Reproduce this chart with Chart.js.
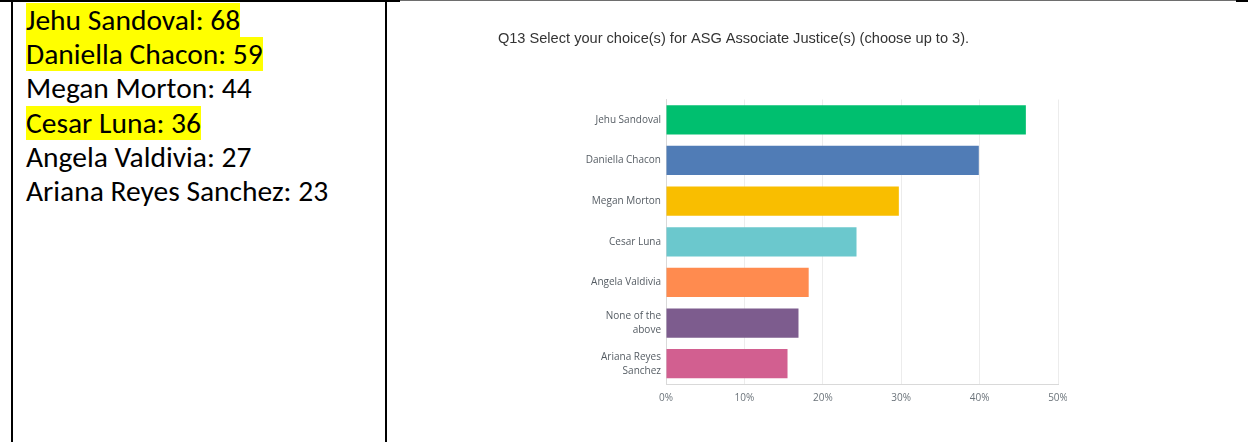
<!DOCTYPE html>
<html>
<head>
<meta charset="utf-8">
<script src="https://cdn.jsdelivr.net/npm/chart.js@4.4.1/dist/chart.umd.min.js"></script>
<style>
  html, body { margin: 0; padding: 0; background: #fff; }
  body { width: 1248px; height: 442px; position: relative; overflow: hidden; }
  .line { position: absolute; background: #000; }
  #textcell { position: absolute; left: 26px; top: 3px; font-family: Carlito, Calibri, Lato, sans-serif; font-size: 29.5px; color: #000; }
  #textcell div { height: 34.2px; line-height: 34.2px; white-space: nowrap; overflow: visible; }
  #textcell span { display: inline-block; height: 34.2px; line-height: 34.2px; vertical-align: top; }
  #textcell span.hl { background: #ffff00; }
  #chartbox { position: absolute; left: 400px; top: 2px; width: 667px; height: 440px; }
</style>
</head>
<body>
<div class="line" style="left:0;top:0;width:400px;height:2px;"></div>
<div class="line" style="left:400px;top:0;width:836px;height:1px;background:#6e6e6e;"></div>
<div class="line" style="left:1236px;top:0;width:12px;height:2px;"></div>
<div class="line" style="left:11px;top:0;width:2px;height:442px;"></div>
<div class="line" style="left:385px;top:0;width:2px;height:442px;"></div>

<div id="textcell"></div>

<div id="chartbox"><canvas id="c"></canvas></div>

<script>
// Left cell: vote counts (text)
const voteNames = ["Jehu Sandoval", "Daniella Chacon", "Megan Morton", "Cesar Luna", "Angela Valdivia", "Ariana Reyes Sanchez"];
const voteCounts = [68, 59, 44, 36, 27, 23];
const voteHighlighted = [true, true, false, true, false, false];

// Chart data
const chartTitle = "Q13 Select your choice(s) for ASG Associate Justice(s) (choose up to 3).";
const categories = [
  "Jehu Sandoval",
  "Daniella Chacon",
  "Megan Morton",
  "Cesar Luna",
  "Angela Valdivia",
  ["None of the", "above"],
  ["Ariana Reyes", "Sanchez"]
];
const percentValues = [45.9, 39.9, 29.7, 24.3, 18.2, 16.9, 15.5];
const barColors = ["#00bf6f", "#507cb6", "#f9be00", "#6bc8cd", "#ff8b4f", "#7d5c8e", "#d25f90"];
const xTickMax = 50;
const xTickStep = 10;

// Build left text cell
const cell = document.getElementById("textcell");
voteNames.forEach((n, i) => {
  const d = document.createElement("div");
  const s = document.createElement("span");
  s.textContent = n + ": " + voteCounts[i];
  if (voteHighlighted[i]) s.className = "hl";
  d.appendChild(s);
  cell.appendChild(d);
});

new Chart(document.getElementById("c"), {
  type: "bar",
  data: {
    labels: categories,
    datasets: [{
      data: percentValues,
      backgroundColor: barColors,
      borderWidth: 0,
      barPercentage: 0.72,
      categoryPercentage: 1.0
    }]
  },
  options: {
    indexAxis: "y",
    responsive: true,
    maintainAspectRatio: false,
    animation: false,
    layout: { padding: { left: 0, right: 0, top: 0, bottom: 30 } },
    plugins: {
      legend: { display: false },
      tooltip: { enabled: false },
      title: {
        display: true,
        text: chartTitle,
        color: "#333333",
        font: { family: "'Liberation Sans', Arial, sans-serif", size: 14.6, weight: "normal" },
        padding: { top: 28, bottom: 52 }
      }
    },
    scales: {
      x: {
        min: 0,
        max: xTickMax,
        afterFit: s => { s.paddingRight = 9; },
        ticks: {
          stepSize: xTickStep,
          callback: v => v + "%",
          color: "#6b737a",
          font: { family: "'Open Sans', 'Noto Sans', sans-serif", size: 10 },
          padding: 8
        },
        grid: { color: "#ececec", drawTicks: false },
        border: { color: "#d9d9d9" }
      },
      y: {
        afterFit: s => { s.width = 266; },
        ticks: {
          color: "#555c63",
          font: { family: "'Open Sans', 'Noto Sans', sans-serif", size: 10, lineHeight: 1.4 },
          padding: 5
        },
        grid: { display: false, drawTicks: false },
        border: { color: "#d9d9d9" }
      }
    }
  }
});
</script>
</body>
</html>
